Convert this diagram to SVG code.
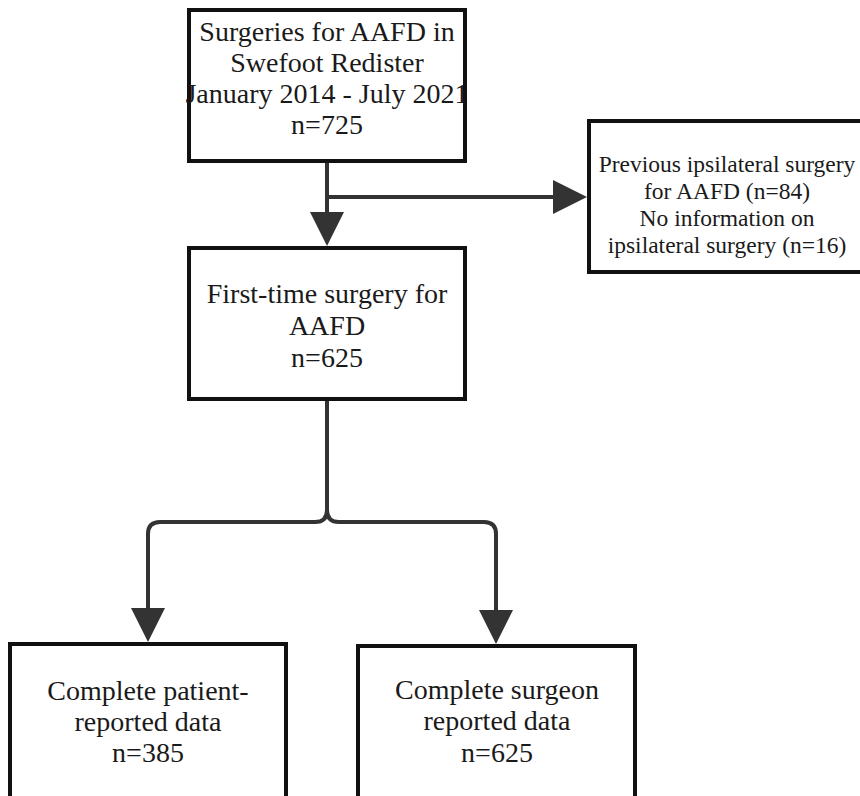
<svg xmlns="http://www.w3.org/2000/svg" width="860" height="796" viewBox="0 0 860 796">
<style>
.box{fill:#ffffff;stroke:#111111;stroke-width:4}
.t{font-family:"Liberation Serif","Times New Roman",serif;font-size:28px;fill:#1a1a1a;text-anchor:middle}
.ts{font-family:"Liberation Serif","Times New Roman",serif;font-size:23.5px;fill:#1a1a1a;text-anchor:middle}
.c{fill:none;stroke:#333333;stroke-width:4}
</style>
<defs>
<marker id="ah" markerUnits="userSpaceOnUse" markerWidth="36" markerHeight="36" refX="0" refY="17" orient="auto" viewBox="0 0 36 36">
<path d="M0,0 L34,17 L0,34 z" fill="#333333"/>
</marker>
</defs>
<rect width="860" height="796" fill="#ffffff"/>
<g id="connectors">
<path class="c" d="M327,161 V212" marker-end="url(#ah)"/>
<path class="c" d="M327,197 H553" marker-end="url(#ah)"/>
<path class="c" d="M327,399 V510 Q327,522 315,522 H160 Q148,522 148,534 V608" marker-end="url(#ah)"/>
<path class="c" d="M327,510 Q327,522 339,522 H484 Q496,522 496,534 V610" marker-end="url(#ah)"/>
</g>
<g id="n1">
<rect class="box" x="189" y="10" width="276" height="151"/>
<text class="t" x="327" y="41">Surgeries for AAFD in</text>
<text class="t" x="327" y="72">Swefoot Redister</text>
<text class="t" x="327" y="103">January 2014 - July 2021</text>
<text class="t" x="327" y="134">n=725</text>
</g>
<g id="n2">
<rect class="box" x="589" y="121" width="290" height="151"/>
<text class="ts" x="727" y="172">Previous ipsilateral surgery</text>
<text class="ts" x="727" y="199">for AAFD (n=84)</text>
<text class="ts" x="727" y="226">No information on</text>
<text class="ts" x="727" y="253">ipsilateral surgery (n=16)</text>
</g>
<g id="n3">
<rect class="box" x="189" y="248" width="276" height="151"/>
<text class="t" x="327" y="303">First-time surgery for</text>
<text class="t" x="327" y="335">AAFD</text>
<text class="t" x="327" y="367">n=625</text>
</g>
<g id="n4">
<rect class="box" x="10" y="644" width="276" height="170"/>
<text class="t" x="148" y="700">Complete patient-</text>
<text class="t" x="148" y="731">reported data</text>
<text class="t" x="148" y="762">n=385</text>
</g>
<g id="n5">
<rect class="box" x="358" y="646" width="277" height="170"/>
<text class="t" x="497" y="699">Complete surgeon</text>
<text class="t" x="497" y="730">reported data</text>
<text class="t" x="497" y="762">n=625</text>
</g>
</svg>
